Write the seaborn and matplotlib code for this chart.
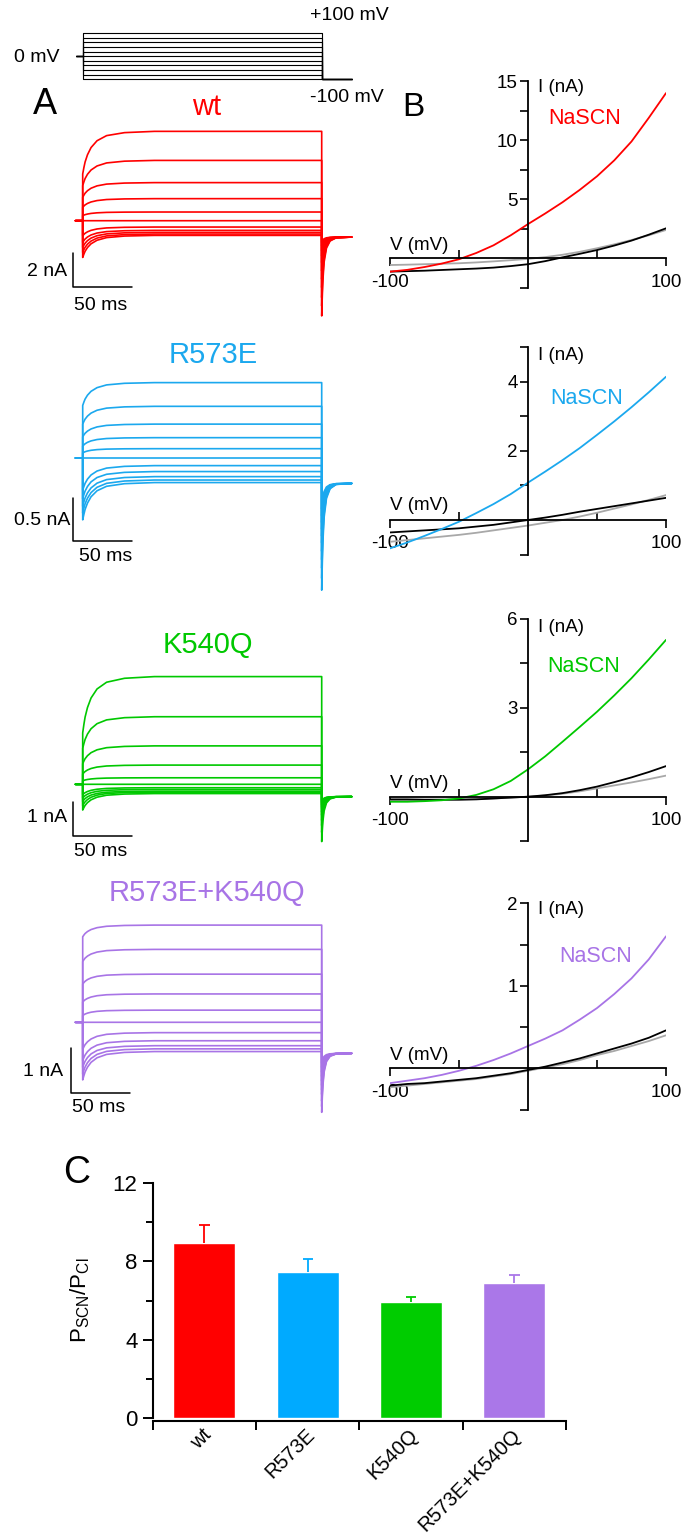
"""Current families, I-V curves and SCN/Cl permeability ratios."""

import matplotlib
matplotlib.use('Agg')
import matplotlib.pyplot as plt
import matplotlib.transforms as mtransforms
import pandas as pd
import seaborn as sns

# ---------------------------------------------------------------- data
step_mv = [-100, -80, -60, -40, -20, 0, 20, 40, 60, 80, 100]
hold_mv = 0
tail_mv = -100
pre_ms = 6
step_ms = 200
tail_len_ms = 25

# normalized relaxation (activation and tail decay)
rise_ms = [0, 1, 2, 4, 7, 12, 20, 35, 60, 200]
rise_frac = [0, 0.15, 0.28, 0.45, 0.62, 0.78, 0.9, 0.97, 1.0, 1.0]
tail_ms = [0, 0.5, 1, 2, 4, 7, 12, 25]
tail_frac = [1.0, 0.75, 0.55, 0.32, 0.14, 0.05, 0.01, 0.0]

# current traces (nA), one value per voltage step in step_mv order
wt_start = [-2.2, -1.9, -1.6, -1.3, -0.9, 0.0, 0.3, 0.8, 1.4, 2.1, 2.8]
wt_steady = [-0.88, -0.80, -0.70, -0.58, -0.38, 0.0, 0.52, 1.32, 2.28, 3.61, 5.35]
wt_tail_peak = [-1.3, -1.5, -1.8, -2.1, -2.5, -3.0, -3.5, -4.0, -4.6, -5.1, -5.7]
wt_tail_ss = -0.98

r573e_start = [-0.73, -0.65, -0.57, -0.48, -0.38, 0.0, 0.06, 0.14, 0.25, 0.40, 0.62]
r573e_steady = [-0.29, -0.26, -0.22, -0.16, -0.09, 0.0, 0.11, 0.24, 0.40, 0.61, 0.89]
r573e_tail_peak = [-0.6, -0.68, -0.76, -0.84, -0.92, -1.0, -1.1, -1.2, -1.3, -1.42, -1.56]
r573e_tail_ss = -0.30

k540q_start = [-0.75, -0.62, -0.5, -0.4, -0.3, 0.0, 0.1, 0.3, 0.6, 1.05, 1.5]
k540q_steady = [-0.27, -0.23, -0.20, -0.15, -0.10, 0.0, 0.19, 0.56, 1.12, 1.97, 3.14]
k540q_tail_peak = [-0.5, -0.55, -0.6, -0.65, -0.7, -0.8, -0.9, -1.05, -1.2, -1.4, -1.67]
k540q_tail_ss = -0.36

dbl_start = [-1.28, -1.15, -1.0, -0.85, -0.6, 0.0, 0.15, 0.45, 0.85, 1.35, 1.9]
dbl_steady = [-0.65, -0.59, -0.52, -0.41, -0.23, 0.0, 0.27, 0.63, 1.07, 1.62, 2.16]
dbl_tail_peak = [-0.9, -1.0, -1.1, -1.2, -1.3, -1.4, -1.5, -1.6, -1.75, -1.87, -2.0]
dbl_tail_ss = -0.69

# I-V curves (nA) read every 12.5 mV
iv_mv = [-100, -87.5, -75, -62.5, -50, -37.5, -25, -12.5, 0,
         12.5, 25, 37.5, 50, 62.5, 75, 87.5, 100]
wt_scn = [-1.13, -0.98, -0.74, -0.45, -0.08, 0.45, 1.10, 1.95, 2.90,
          3.80, 4.75, 5.80, 6.95, 8.30, 9.90, 11.9, 14.0]
wt_cl = [-1.13, -1.09, -1.05, -0.99, -0.93, -0.87, -0.79, -0.66, -0.50,
         -0.24, 0.08, 0.38, 0.70, 1.08, 1.50, 2.00, 2.54]
wt_cl2 = [-0.57, -0.54, -0.50, -0.46, -0.42, -0.35, -0.26, -0.16, -0.05,
          0.10, 0.30, 0.55, 0.85, 1.18, 1.55, 1.95, 2.40]

r573e_scn = [-0.82, -0.65, -0.46, -0.26, -0.05, 0.20, 0.46, 0.75, 1.08,
             1.40, 1.73, 2.08, 2.46, 2.85, 3.26, 3.69, 4.14]
r573e_cl = [-0.36, -0.33, -0.30, -0.27, -0.24, -0.19, -0.14, -0.07, 0.0,
            0.07, 0.15, 0.24, 0.32, 0.40, 0.48, 0.56, 0.64]
r573e_cl2 = [-0.63, -0.58, -0.53, -0.48, -0.43, -0.37, -0.30, -0.23, -0.16,
             -0.08, 0.0, 0.10, 0.21, 0.33, 0.45, 0.58, 0.72]

k540q_scn = [-0.17, -0.17, -0.15, -0.12, -0.06, 0.06, 0.25, 0.53, 0.92,
             1.36, 1.85, 2.35, 2.86, 3.41, 3.99, 4.62, 5.28]
k540q_cl = [-0.09, -0.09, -0.10, -0.10, -0.10, -0.09, -0.06, -0.03, 0.0,
            0.05, 0.12, 0.22, 0.34, 0.49, 0.65, 0.83, 1.03]
k540q_cl2 = [-0.12, -0.12, -0.12, -0.11, -0.10, -0.08, -0.06, -0.03, 0.0,
             0.04, 0.10, 0.18, 0.28, 0.38, 0.48, 0.59, 0.71]

dbl_scn = [-0.18, -0.15, -0.12, -0.08, -0.03, 0.03, 0.10, 0.18, 0.27,
           0.36, 0.46, 0.59, 0.73, 0.90, 1.09, 1.32, 1.60]
dbl_cl = [-0.21, -0.19, -0.18, -0.16, -0.14, -0.12, -0.09, -0.06, -0.02,
          0.02, 0.07, 0.12, 0.18, 0.24, 0.30, 0.37, 0.46]
dbl_cl2 = [-0.23, -0.21, -0.19, -0.17, -0.15, -0.13, -0.10, -0.07, -0.03,
           0.01, 0.05, 0.10, 0.16, 0.21, 0.27, 0.33, 0.40]

# permeability ratios
groups = ['wt', 'R573E', 'K540Q', 'R573E+K540Q']
ratio = [8.96, 7.46, 5.94, 6.88]
ratio_sem = [0.91, 0.65, 0.26, 0.43]

trace_colors = ['#ff0000', '#1ba8ee', '#00c800', '#a874e6']
bar_colors = ['#ff0000', '#00aaff', '#00cc00', '#aa77e8']

# ---------------------------------------------------------------- style
sns.set_theme(style='ticks')
plt.rcParams['font.family'] = ['Liberation Sans', 'DejaVu Sans']
plt.rcParams['mathtext.fontset'] = 'custom'
plt.rcParams['mathtext.rm'] = 'Liberation Sans'
plt.rcParams['mathtext.it'] = 'Liberation Sans:italic'
plt.rcParams['mathtext.bf'] = 'Liberation Sans:bold'
for key in ['text.color', 'axes.edgecolor', 'axes.labelcolor', 'xtick.color', 'ytick.color']:
    plt.rcParams[key] = 'black'

W, H = 687, 1536
fig = plt.figure(figsize=(W / 100, H / 100), dpi=100)

T0_PX = 82.7       # pixel of step onset
PX_PER_MS = 1.195


def px_axes(box):
    left, top, right, bottom = box
    ax = fig.add_axes([left / W, 1 - bottom / H, (right - left) / W, (bottom - top) / H])
    ax.patch.set_alpha(0)
    return ax


def px_text(x, y, s, **kw):
    fig.text(x / W, 1 - y / H, s, **kw)


def fit_limits(ax, box, x0_px, x_per, y0_px, y_per):
    left, top, right, bottom = box
    ax.set_xlim((left - x0_px) / x_per, (right - x0_px) / x_per)
    ax.set_ylim((y0_px - bottom) / y_per, (y0_px - top) / y_per)


# ---------------------------------------------------------------- protocol
rows = []
for v in step_mv:
    ts = [-pre_ms, 0, 0, step_ms, step_ms, step_ms + tail_len_ms]
    vs = [hold_mv, hold_mv, v, v, tail_mv, tail_mv]
    rows += [dict(t=a, v=b, step=v) for a, b in zip(ts, vs)]
prot = pd.DataFrame(rows)
box = (60, 20, 360, 92)
ax = px_axes(box)
sns.lineplot(data=prot, x='t', y='v', units='step', estimator=None, sort=False,
             color='black', lw=0.8, ax=ax, legend=False)
fit_limits(ax, box, T0_PX, PX_PER_MS, 56.3, 0.23)
ax.axis('off')
px_text(60, 58, '0 mV', ha='right', va='center', fontsize=14)
px_text(310, 16, '+100 mV', ha='left', va='center', fontsize=14)
px_text(310, 97, '-100 mV', ha='left', va='center', fontsize=14)


# ---------------------------------------------------------------- traces
def trace_frame(start, steady, peak, tail_ss):
    rows = []
    for k, v in enumerate(step_mv):
        pts = [(-pre_ms, 0.0), (0, 0.0)]
        pts += [(t, start[k] + (steady[k] - start[k]) * f) for t, f in zip(rise_ms, rise_frac)]
        pts += [(step_ms + t, tail_ss + (peak[k] - tail_ss) * g) for t, g in zip(tail_ms, tail_frac)]
        rows += [dict(t=t, i=i, step=v) for t, i in pts]
    return pd.DataFrame(rows)


trace_sets = [
    (wt_start, wt_steady, wt_tail_peak, wt_tail_ss),
    (r573e_start, r573e_steady, r573e_tail_peak, r573e_tail_ss),
    (k540q_start, k540q_steady, k540q_tail_peak, k540q_tail_ss),
    (dbl_start, dbl_steady, dbl_tail_peak, dbl_tail_ss),
]
# layout: box, zero px, px per nA, scale nA, bar bottom px, bar x px, title xy,
#         scale label positions
trace_layout = [
    ((60, 115, 360, 322), 220.7, 16.7, 2.0, 286.7, 72.7, (207, 107), '2 nA', (67, 272), (74, 305)),
    ((60, 370, 360, 595), 458.0, 84.7, 0.5, 540.7, 72.7, (213, 355), '0.5 nA', (70, 521), (79, 556)),
    ((60, 660, 360, 845), 784.3, 34.3, 1.0, 836.0, 72.7, (208, 645), '1 nA', (67, 818), (74, 851)),
    ((60, 905, 360, 1118), 1022.3, 45.0, 1.0, 1093.3, 70.7, (207, 893), '1 nA', (63, 1071), (72, 1107)),
]

for k in range(4):
    box, zero_px, per, sc, bar_px, bar_x, title_xy, sc_lab, lab1, lab2 = trace_layout[k]
    ax = px_axes(box)
    df = trace_frame(*trace_sets[k])
    sns.lineplot(data=df, x='t', y='i', units='step', estimator=None, sort=False,
                 color=trace_colors[k], lw=1.2, ax=ax, legend=False)
    fit_limits(ax, box, T0_PX, PX_PER_MS, zero_px, per)
    # scale bar
    tb = (bar_x - T0_PX) / PX_PER_MS
    ib = (zero_px - bar_px) / per
    ax.plot([tb, tb, tb + 50], [ib + sc, ib, ib], color='black', lw=1.1, clip_on=False)
    ax.axis('off')
    px_text(*lab1, sc_lab, ha='right', va='center', fontsize=14)
    px_text(*lab2, '50 ms', ha='left', va='center', fontsize=14)
    px_text(*title_xy, groups[k], ha='center', va='center', fontsize=21,
            color=trace_colors[k])

# ---------------------------------------------------------------- I-V curves
iv_sets = [
    (wt_scn, wt_cl, wt_cl2),
    (r573e_scn, r573e_cl, r573e_cl2),
    (k540q_scn, k540q_cl, k540q_cl2),
    (dbl_scn, dbl_cl, dbl_cl2),
]
# zero px, px per nA, ylim, major, minor, text rows (I label y, NaSCN x/y, V label y)
iv_layout = [
    (258.3, 11.8, (-2.5, 15), [5, 10, 15], [-2.5, 2.5, 7.5, 12.5], 88, (548, 118), 245),
    (520.0, 34.6, (-1, 5), [2, 4], [-1, 1, 3, 5], 355, (550, 398), 505),
    (796.7, 29.7, (-1.5, 6), [3, 6], [-1.5, 1.5, 4.5], 627, (547, 666), 783),
    (1068.3, 82.5, (-0.5, 2), [1, 2], [-0.5, 0.5, 1.5], 910, (559, 957), 1055),
]

for k in range(4):
    zero_px, per, ylim, major, minor, i_y, scn_xy, v_y = iv_layout[k]
    box = (390, zero_px - ylim[1] * per, 666, zero_px - ylim[0] * per)
    ax = px_axes(box)
    scn, cl, cl2 = iv_sets[k]
    sns.lineplot(x=iv_mv, y=cl2, color='#a8a8a8', lw=1.3, ax=ax)
    sns.lineplot(x=iv_mv, y=cl, color='black', lw=1.3, ax=ax)
    sns.lineplot(x=iv_mv, y=scn, color=trace_colors[k], lw=1.3, ax=ax)
    ax.set_xlim(-100, 100)
    ax.set_ylim(*ylim)
    ax.set_xlabel('')
    ax.set_ylabel('')
    for side in ['top', 'right']:
        ax.spines[side].set_visible(False)
    for side in ['left', 'bottom']:
        ax.spines[side].set_position(('data', 0))
        ax.spines[side].set_linewidth(1.3)
    ax.set_xticks([-100, 100], labels=['-100', '100'])
    ax.set_xticks([-50, 50], minor=True)
    ax.tick_params(axis='x', which='major', direction='out', length=6, width=1.2,
                   labelsize=13.5, pad=5)
    ax.tick_params(axis='x', which='minor', direction='in', length=6, width=1.2)
    ax.set_yticks(major)
    ax.set_yticks(minor, minor=True)
    ax.tick_params(axis='y', which='both', direction='out', length=6, width=1.2,
                   labelsize=13.5, pad=1.5)
    px_text(538, i_y, 'I (nA)', ha='left', va='center', fontsize=13.5)
    px_text(scn_xy[0], scn_xy[1], 'NaSCN', ha='left', va='center', fontsize=15.5,
            color=trace_colors[k])
    px_text(390, v_y, 'V (mV)', ha='left', va='center', fontsize=13.5)

# ---------------------------------------------------------------- panel C
axc = px_axes((152.7, 1183.3, 566, 1417.7))
sns.barplot(x=groups, y=ratio, hue=groups, palette=bar_colors, width=0.6,
            saturation=1, legend=False, ax=axc)
cap = 0.05
for k in range(4):
    top = ratio[k] + ratio_sem[k]
    axc.vlines(k, ratio[k], top, color=bar_colors[k], lw=1.3)
    axc.hlines(top, k - cap, k + cap, color=bar_colors[k], lw=1.3)
axc.set_xlim(-0.5, 3.5)
axc.set_ylim(0, 12)
axc.set_xlabel('')
axc.set_ylabel('')
for side in ['top', 'right']:
    axc.spines[side].set_visible(False)
for side in ['left', 'bottom']:
    axc.spines[side].set_linewidth(1.5)
axc.spines['bottom'].set_position(('outward', 2.5))
axc.set_yticks([0, 4, 8, 12])
axc.set_yticks([2, 6, 10], minor=True)
axc.tick_params(axis='y', which='major', length=7, width=1.4, labelsize=16, pad=4)
axc.tick_params(axis='y', which='minor', length=5, width=1.4)
axc.set_xticks([-0.5, 0.5, 1.5, 2.5, 3.5], labels=[''] * 5)
axc.set_xticks(range(4), labels=groups, minor=True)
axc.tick_params(axis='x', which='major', length=6.5, width=1.4)
axc.tick_params(axis='x', which='minor', length=0, labelsize=14.5, pad=3)
shift = mtransforms.ScaledTranslation(-0.03, 0, fig.dpi_scale_trans)
for lab in axc.get_xticklabels(minor=True):
    lab.set_rotation(45)
    lab.set_ha('right')
    lab.set_rotation_mode('anchor')
    lab.set_transform(lab.get_transform() + shift)
px_text(80, 1300, r'P$_{\mathrm{SCN}}$/P$_{\mathrm{Cl}}$', rotation=90,
        ha='center', va='center', fontsize=16)

# panel letters
px_text(45, 105, 'A', ha='center', va='center', fontsize=26)
px_text(413, 107, 'B', ha='center', va='center', fontsize=24)
px_text(77, 1173, 'C', ha='center', va='center', fontsize=27)

fig.savefig('out.png', dpi=100)
